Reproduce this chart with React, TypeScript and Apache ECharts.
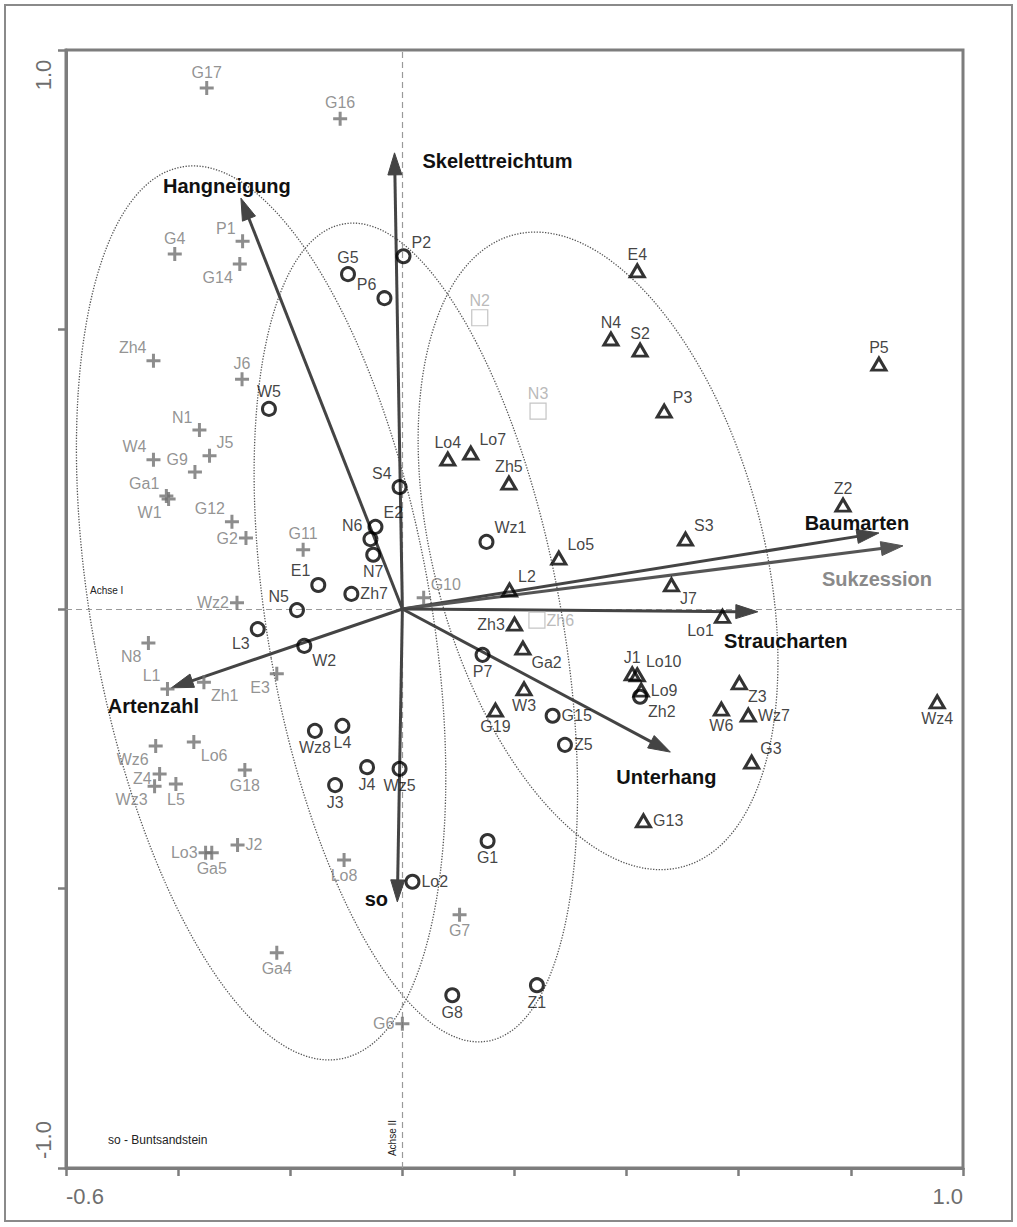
import React, { useEffect, useRef } from "react";
import * as echarts from "echarts";

// ---- data ----
const X_MIN = -0.6;
const X_MAX = 1.0;
const Y_MIN = -1.0;
const Y_MAX = 1.0;

// gray "+" relevés
const PLUS: [string, number, number][] = [
  ["G17", -0.349, 0.932], ["G16", -0.111, 0.877], ["G4", -0.406, 0.635], ["P1", -0.285, 0.658],
  ["G14", -0.29, 0.617], ["Zh4", -0.444, 0.444], ["J6", -0.286, 0.411], ["N1", -0.362, 0.32],
  ["W4", -0.444, 0.267], ["J5", -0.344, 0.274], ["G9", -0.37, 0.245], ["Ga1", -0.421, 0.202],
  ["W1", -0.417, 0.197], ["G12", -0.304, 0.156], ["G2", -0.279, 0.127], ["G11", -0.177, 0.106],
  ["Wz2", -0.295, 0.011], ["G10", 0.038, 0.02], ["N8", -0.453, -0.061], ["L1", -0.419, -0.143],
  ["Zh1", -0.354, -0.131], ["E3", -0.224, -0.116], ["Wz6", -0.44, -0.245], ["Lo6", -0.372, -0.238],
  ["Z4", -0.433, -0.295], ["Wz3", -0.442, -0.317], ["L5", -0.404, -0.313], ["G18", -0.281, -0.288],
  ["Lo3", -0.351, -0.436], ["Ga5", -0.34, -0.436], ["J2", -0.294, -0.422], ["Lo8", -0.104, -0.449],
  ["Ga4", -0.224, -0.615], ["G7", 0.102, -0.547], ["G6", 0.0, -0.742],
];

// black circles
const CIRCLES: [string, number, number][] = [
  ["G5", -0.097, 0.599], ["P6", -0.032, 0.556], ["P2", 0.002, 0.631], ["W5", -0.238, 0.358],
  ["S4", -0.005, 0.218], ["E2", -0.048, 0.147], ["N6", -0.057, 0.125], ["N7", -0.052, 0.097],
  ["E1", -0.15, 0.043], ["Zh7", -0.091, 0.027], ["N5", -0.188, -0.002], ["L3", -0.258, -0.036],
  ["W2", -0.175, -0.066], ["Wz1", 0.15, 0.12], ["P7", 0.143, -0.082], ["G15", 0.268, -0.191],
  ["Z5", 0.29, -0.243], ["Wz8", -0.156, -0.218], ["L4", -0.107, -0.209], ["J4", -0.063, -0.283],
  ["Wz5", -0.005, -0.286], ["J3", -0.12, -0.315], ["G1", 0.152, -0.415], ["Lo2", 0.018, -0.488],
  ["G8", 0.089, -0.691], ["Z1", 0.24, -0.673], ["Zh2", 0.424, -0.157],
];

// black triangles
const TRIANGLES: [string, number, number][] = [
  ["E4", 0.419, 0.605], ["N4", 0.372, 0.483], ["S2", 0.424, 0.463], ["P3", 0.467, 0.354],
  ["P5", 0.85, 0.438], ["Lo4", 0.081, 0.268], ["Lo7", 0.122, 0.279], ["Zh5", 0.19, 0.225],
  ["Lo5", 0.279, 0.091], ["S3", 0.505, 0.125], ["Z2", 0.786, 0.186], ["L2", 0.191, 0.034],
  ["J7", 0.48, 0.043], ["Lo1", 0.571, -0.013], ["Zh3", 0.2, -0.027], ["Ga2", 0.215, -0.07],
  ["W3", 0.217, -0.143], ["G19", 0.166, -0.181], ["J1", 0.41, -0.116], ["Lo10", 0.419, -0.118],
  ["Lo9", 0.426, -0.145], ["Z3", 0.601, -0.132], ["W6", 0.569, -0.179], ["Wz7", 0.617, -0.19],
  ["G3", 0.623, -0.274], ["G13", 0.43, -0.379], ["Wz4", 0.954, -0.166],
];

// light gray squares
const SQUARES: [string, number, number][] = [
  ["N2", 0.138, 0.521], ["N3", 0.242, 0.354], ["Zh6", 0.24, -0.02],
];

// environmental vectors (tip coordinates)
const ARROWS: [string, number, number][] = [
  ["Hangneigung", -0.288, 0.735], ["Skelettreichtum", -0.014, 0.816], ["Baumarten", 0.85, 0.136],
  ["Sukzession", 0.893, 0.113], ["Straucharten", 0.634, -0.005], ["Unterhang", 0.478, -0.256],
  ["Artenzahl", -0.412, -0.141], ["so", -0.009, -0.524],
];

// group ellipses: centre x, centre y, semi-major (vertical), semi-minor, tilt (deg)
const ELLIPSES: [number, number, number, number, number][] = [
  [-0.252, -0.007, 0.81, 0.302, 10.1],
  [0.024, -0.042, 0.742, 0.262, 10],
  [0.349, 0.104, 0.585, 0.293, 15],
];

// ---- styling lookups ----
const LABEL_POS: Record<string, string> = {
  G17: "t", G16: "t", G4: "t", P1: "tl", G14: "bl", Zh4: "tl", J6: "t", N1: "tl", W4: "tl", J5: "tr",
  G9: "tl", Ga1: "tl", W1: "bl", G12: "tl", G2: "l", G11: "t", Wz2: "l", G10: "tr", N8: "bl", L1: "tl",
  Zh1: "br", E3: "bl", Wz6: "bl", Lo6: "br", Z4: "ld", Wz3: "bl", L5: "b", G18: "b", Lo3: "l", Ga5: "b",
  J2: "r", Lo8: "b", Ga4: "b", G7: "b", G6: "l",
  G5: "t", P6: "tl", P2: "tr", W5: "t", S4: "tl", E2: "tr", N6: "tl", N7: "b", E1: "tl", Zh7: "r",
  N5: "tl", L3: "bl", W2: "br", Wz1: "tr", P7: "b", G15: "r", Z5: "r", Wz8: "b", L4: "b", J4: "b",
  Wz5: "b", J3: "b", G1: "b", Lo2: "r", G8: "b", Z1: "b", Zh2: "br",
  E4: "t", N4: "t", S2: "t", P3: "tr", P5: "t", Lo4: "t", Lo7: "tr", Zh5: "t", Lo5: "tr", S3: "tr",
  Z2: "t", L2: "tr", J7: "br", Lo1: "bl", Zh3: "l", Ga2: "br", W3: "b", G19: "b", J1: "t", Lo10: "tr",
  Lo9: "r", Z3: "br", W6: "b", Wz7: "r", G3: "tr", G13: "r", Wz4: "b",
  N2: "t", N3: "t", Zh6: "r",
};

const ARROW_LABEL_OFFSET: Record<string, [number, number]> = {
  Hangneigung: [-14, -12], Skelettreichtum: [103, 8], Baumarten: [-22, -10], Sukzession: [-26, 33],
  Straucharten: [28, 29], Unterhang: [-4, 25], Artenzahl: [-18, 18], so: [-21, -3],
};

const FONT = "Liberation Sans, Arial, Helvetica, sans-serif";

function labelFor(code: string) {
  const base: any = { show: true, formatter: "{b}", fontFamily: FONT, fontSize: 16, distance: 1 };
  switch (code) {
    case "t": return { ...base, position: "top" };
    case "b": return { ...base, position: "bottom" };
    case "l": return { ...base, position: "left" };
    case "ld": return { ...base, position: "left", offset: [0, 5] };
    case "r": return { ...base, position: "right" };
    case "tl": return { ...base, position: [0, 2], align: "right", verticalAlign: "bottom" };
    case "tr": return { ...base, position: ["100%", 2], align: "left", verticalAlign: "bottom" };
    case "bl": return { ...base, position: [0, "90%"], align: "right", verticalAlign: "top" };
    default: return { ...base, position: ["100%", "90%"], align: "left", verticalAlign: "top" };
  }
}

function toItems(list: [string, number, number][]) {
  return list.map(([name, x, y]) => ({ name, value: [x, y], label: labelFor(LABEL_POS[name] || "t") }));
}

const PLUS_PATH = "path://M5.5,0H8.5V5.5H14V8.5H8.5V14H5.5V8.5H0V5.5H5.5Z";

export default function App() {
  const ref = useRef<HTMLDivElement>(null);

  useEffect(() => {
    if (!ref.current) return;
    const chart = echarts.init(ref.current, null, { renderer: "svg" });

    const option: any = {
      animation: false,
      backgroundColor: "#ffffff",
      grid: { left: 66, right: 54, top: 50, bottom: 59, show: true, borderColor: "#7d7d7d", borderWidth: 3 },
      xAxis: {
        type: "value", min: X_MIN, max: X_MAX, interval: 0.2,
        splitLine: { show: false },
        axisLine: { show: true, onZero: false, lineStyle: { color: "#7d7d7d", width: 3 } },
        axisTick: { show: true, length: 8, lineStyle: { color: "#7d7d7d", width: 2.5 } },
        axisLabel: {
          show: true, margin: 17, fontSize: 22, color: "#6e6e6e", fontFamily: FONT,
          alignMinLabel: "left", alignMaxLabel: "right",
          formatter: (v: number) => (Math.abs(v - X_MIN) < 1e-6 ? "-0.6" : Math.abs(v - X_MAX) < 1e-6 ? "1.0" : ""),
        },
      },
      yAxis: {
        type: "value", min: Y_MIN, max: Y_MAX, interval: 0.5,
        splitLine: { show: false },
        axisLine: { show: true, onZero: false, lineStyle: { color: "#7d7d7d", width: 3 } },
        axisTick: { show: true, length: 8, lineStyle: { color: "#7d7d7d", width: 2.5 } },
        axisLabel: { show: false },
      },
      graphic: [
        { type: "rect", shape: { x: 5, y: 5, width: 1007, height: 1216 }, style: { fill: "none", stroke: "#8a8a8a", lineWidth: 2 }, z: 0 },
        { type: "text", x: 43, y: 75, rotation: Math.PI / 2, style: { text: "1.0", font: `22px ${FONT}`, fill: "#6e6e6e", align: "center", verticalAlign: "middle" } },
        { type: "text", x: 43, y: 1140, rotation: Math.PI / 2, style: { text: "-1.0", font: `22px ${FONT}`, fill: "#6e6e6e", align: "center", verticalAlign: "middle" } },
        { type: "text", x: 90, y: 590, style: { text: "Achse I", font: `10px ${FONT}`, fill: "#222", align: "left", verticalAlign: "middle" } },
        { type: "text", x: 392, y: 1138, rotation: Math.PI / 2, style: { text: "Achse II", font: `10px ${FONT}`, fill: "#222", align: "center", verticalAlign: "middle" } },
        { type: "text", x: 108, y: 1140, style: { text: "so - Buntsandstein", font: `12px ${FONT}`, fill: "#222", align: "left", verticalAlign: "middle" } },
      ],
      series: [
        {
          type: "custom",
          name: "ellipses",
          coordinateSystem: "cartesian2d",
          encode: { x: 0, y: 1 },
          clip: false,
          silent: true,
          z: 1,
          data: ELLIPSES,
          renderItem: (params: any, api: any) => {
            const c = api.coord([api.value(0), api.value(1)]);
            const s = api.size([api.value(3), api.value(2)]);
            return {
              type: "ellipse",
              x: c[0], y: c[1],
              rotation: (api.value(4) * Math.PI) / 180,
              shape: { cx: 0, cy: 0, rx: s[0], ry: s[1] },
              style: { fill: "none", stroke: "#555555", lineWidth: 1.3, lineDash: [1.3, 1.5] },
            };
          },
        },
        {
          type: "custom",
          name: "vectors",
          coordinateSystem: "cartesian2d",
          encode: { x: [1, 3], y: [2, 4] },
          clip: false,
          z: 3,
          data: ARROWS.map(([n, x, y]) => [n, 0, 0, x, y]),
          dimensions: ["name", "x0", "y0", "x1", "y1"],
          renderItem: (params: any, api: any) => {
            const name = ARROWS[params.dataIndex][0];
            const p0 = api.coord([api.value(1), api.value(2)]);
            const p1 = api.coord([api.value(3), api.value(4)]);
            const dx = p1[0] - p0[0];
            const dy = p1[1] - p0[1];
            const len = Math.sqrt(dx * dx + dy * dy);
            const ux = dx / len, uy = dy / len;
            const hl = 22, hw = 7;
            const bx = p1[0] - ux * hl, by = p1[1] - uy * hl;
            const col = name === "Sukzession" ? "#555555" : "#444444";
            const off = ARROW_LABEL_OFFSET[name] || [0, 0];
            return {
              type: "group",
              children: [
                { type: "line", shape: { x1: p0[0], y1: p0[1], x2: bx + ux * 2, y2: by + uy * 2 }, style: { stroke: col, lineWidth: 3 } },
                {
                  type: "polygon",
                  shape: { points: [[p1[0], p1[1]], [bx - uy * hw, by + ux * hw], [bx + uy * hw, by - ux * hw]] },
                  style: { fill: col, stroke: col, lineWidth: 1 },
                },
                {
                  type: "text",
                  x: p1[0] + off[0], y: p1[1] + off[1],
                  style: {
                    text: name,
                    font: `bold 20px ${FONT}`,
                    fill: name === "Sukzession" ? "#8a8a8a" : "#111111",
                    align: "center", verticalAlign: "middle",
                  },
                },
              ],
            };
          },
        },
        {
          type: "scatter",
          name: "plus",
          z: 4,
          symbol: PLUS_PATH,
          symbolSize: 14,
          itemStyle: { color: "#707070" },
          label: { color: "#777777" },
          data: toItems(PLUS),
          markLine: {
            silent: true,
            symbol: ["none", "none"],
            label: { show: false },
            lineStyle: { type: [6, 4], color: "#9a9a9a", width: 1.2 },
            data: [{ xAxis: 0 }, { yAxis: 0 }],
            z: 2,
          },
        },
        {
          type: "scatter",
          name: "circles",
          z: 5,
          symbol: "circle",
          symbolSize: 13,
          itemStyle: { color: "rgba(255,255,255,0)", borderColor: "#000000", borderWidth: 3 },
          label: { color: "#111111" },
          data: toItems(CIRCLES),
        },
        {
          type: "scatter",
          name: "triangles",
          z: 5,
          symbol: "triangle",
          symbolSize: [14, 12],
          itemStyle: { color: "rgba(255,255,255,0)", borderColor: "#000000", borderWidth: 3 },
          label: { color: "#111111" },
          data: toItems(TRIANGLES),
        },
        {
          type: "scatter",
          name: "squares",
          z: 5,
          symbol: "rect",
          symbolSize: 16,
          itemStyle: { color: "rgba(255,255,255,0)", borderColor: "#b5b5b5", borderWidth: 1.2 },
          label: { color: "#a8a8a8" },
          data: toItems(SQUARES),
        },
      ],
    };

    chart.setOption(option);
    return () => chart.dispose();
  }, []);

  return (
    <div
      ref={ref}
      style={{ position: "absolute", left: 0, top: 0, width: 1017, height: 1227, background: "#fff" }}
    />
  );
}
